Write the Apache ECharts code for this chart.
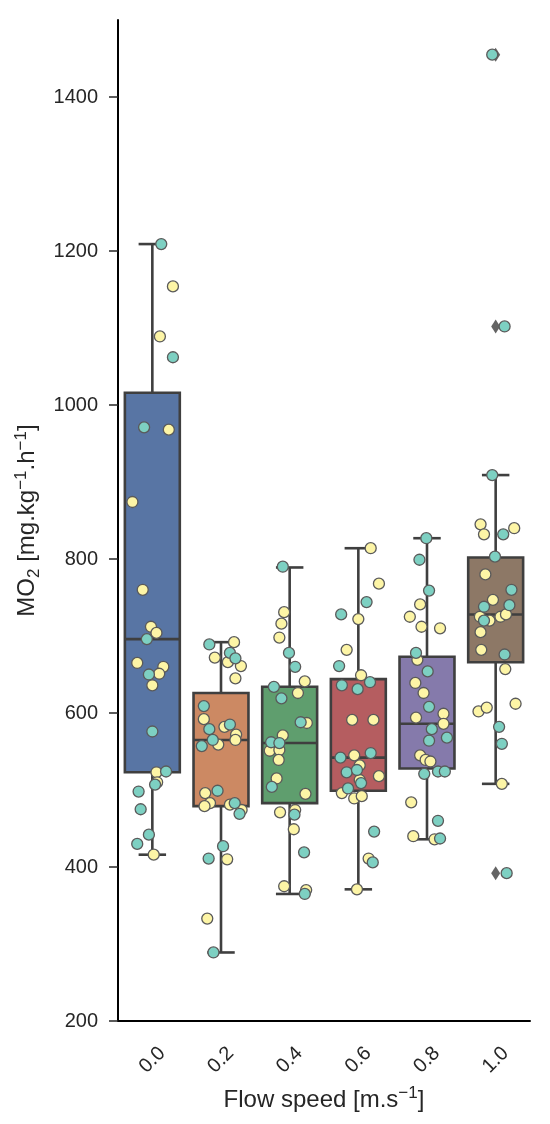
<!DOCTYPE html>
<html>
<head>
<meta charset="utf-8">
<script src="https://cdn.jsdelivr.net/npm/echarts@6/dist/echarts.min.js"></script>
<style>
html,body{margin:0;padding:0;background:#fff}
#chart{width:550px;height:1124px}
</style>
</head>
<body>
<div id="chart"></div>
<script>
// flow speed categories
var speeds = ['0.0', '0.2', '0.4', '0.6', '0.8', '1.0'];

// box stats per speed
var whiskerLow  = [416, 289, 365, 371, 436, 508];
var q1          = [523, 479, 483, 499, 528, 666];
var median      = [696, 565, 561, 542, 586, 728];
var q3          = [1016, 626, 634, 644, 673, 802];
var whiskerHigh = [1209, 692, 789, 814, 827, 909];

// outliers (speed index, MO2)
var outlierSpeed = [5, 5, 5];
var outlierMO2   = [1455, 1102, 392];

// strip points, teal group: MO2 values and jitter (fraction of band)
var tealMO2 = [
  [1209, 1062, 971, 696, 650, 576, 524, 507, 498, 475, 442, 430],
  [689, 678, 671, 609, 579, 585, 565, 557, 499, 483, 469, 427, 411, 289],
  [790, 678, 660, 634, 619, 588, 562, 561, 504, 468, 419, 365],
  [744, 728, 661, 636, 631, 640, 542, 548, 523, 526, 509, 502, 446, 406],
  [827, 799, 759, 678, 654, 608, 579, 568, 564, 521, 524, 524, 460, 437],
  [1455, 1102, 909, 832, 803, 760, 738, 740, 720, 676, 582, 560, 392]
];
var tealJitter = [
  [0.13, 0.30, -0.12, -0.08, -0.05, 0.00, 0.20, 0.04, -0.20, -0.17, -0.05, -0.22],
  [-0.17, 0.13, 0.21, -0.25, -0.17, 0.13, -0.12, -0.28, -0.05, 0.20, 0.27, 0.03, -0.18, -0.11],
  [-0.10, -0.01, 0.08, -0.23, -0.12, 0.16, -0.27, -0.15, -0.26, 0.07, 0.21, 0.22],
  [0.12, -0.25, -0.28, -0.24, -0.01, 0.17, -0.26, 0.18, -0.17, -0.02, 0.04, -0.15, 0.23, 0.21],
  [-0.01, -0.11, 0.03, -0.16, 0.01, 0.03, 0.07, 0.29, 0.03, -0.04, 0.16, 0.26, 0.16, 0.19],
  [-0.05, 0.13, -0.05, 0.11, -0.01, 0.23, -0.17, 0.20, -0.17, 0.13, 0.05, 0.09, 0.16]
];

// strip points, yellow group
var yellowMO2 = [
  [1154, 1089, 968, 874, 760, 712, 704, 665, 660, 651, 636, 523, 510, 416],
  [692, 672, 666, 661, 645, 592, 582, 572, 565, 559, 496, 483, 479, 481, 474, 410, 333],
  [731, 716, 698, 641, 626, 587, 571, 551, 552, 539, 515, 495, 471, 474, 449, 375, 370],
  [814, 768, 722, 682, 649, 591, 591, 545, 532, 518, 513, 496, 489, 492, 411, 371],
  [741, 725, 712, 710, 669, 639, 626, 599, 594, 586, 545, 539, 537, 484, 440, 436],
  [845, 832, 840, 780, 747, 725, 720, 725, 728, 705, 682, 657, 612, 602, 607, 508]
];
var yellowJitter = [
  [0.30, 0.11, 0.24, -0.29, -0.14, -0.02, 0.06, -0.22, 0.16, 0.10, 0.00, 0.06, 0.07, 0.02],
  [0.19, -0.09, 0.10, 0.29, 0.21, -0.25, 0.05, 0.22, 0.21, -0.04, -0.23, -0.16, -0.24, 0.13, 0.30, 0.09, -0.20],
  [-0.08, -0.12, -0.15, 0.22, 0.12, 0.25, -0.10, -0.29, -0.15, -0.16, -0.19, 0.23, -0.14, 0.08, 0.06, -0.08, 0.24],
  [0.18, 0.30, 0.00, -0.17, 0.04, -0.09, 0.22, -0.06, 0.02, 0.30, 0.02, -0.24, -0.06, 0.05, 0.15, -0.02],
  [-0.10, -0.25, -0.08, 0.19, -0.14, -0.17, -0.05, 0.24, -0.16, 0.24, -0.10, -0.02, 0.05, -0.23, -0.20, 0.11],
  [-0.22, -0.17, 0.27, -0.15, -0.04, -0.23, -0.09, 0.07, 0.15, -0.22, -0.21, 0.14, 0.29, -0.25, -0.13, 0.09]
];

var yTicks = [200, 400, 600, 800, 1000, 1200, 1400];

var boxColors = ['#5875a4', '#cc8963', '#5f9e6e', '#b55d60', '#857aab', '#8d7866'];
var edgeColor = '#3f3f3f';
var textColor = '#262626';
var fontFamily = '"Liberation Sans", Arial, sans-serif';

function stripData(values, jitter) {
  var out = [];
  for (var i = 0; i < values.length; i++) {
    for (var j = 0; j < values[i].length; j++) {
      out.push([i + jitter[i][j], values[i][j]]);
    }
  }
  return out;
}

var boxData = speeds.map(function (s, i) {
  return [i, whiskerLow[i], q1[i], median[i], q3[i], whiskerHigh[i]];
});
var outlierData = outlierSpeed.map(function (s, i) {
  return [s, outlierMO2[i]];
});

function lineStyle() {
  return {stroke: edgeColor, lineWidth: 2.6};
}

function nameRich() {
  return {
    t: {fontSize: 24, lineHeight: 30, color: textColor, fontFamily: fontFamily},
    sup: {fontSize: 17, lineHeight: 16, verticalAlign: 'top', color: textColor, fontFamily: fontFamily},
    sub: {fontSize: 17, lineHeight: 16, verticalAlign: 'bottom', color: textColor, fontFamily: fontFamily}
  };
}

var chart = echarts.init(document.getElementById('chart'));
var option = {
  backgroundColor: '#fff',
  animation: false,
  grid: {left: 118, right: 20, top: 20, bottom: 103},
  xAxis: [{
    type: 'category',
    data: speeds,
    boundaryGap: true,
    axisLine: {onZero: false, lineStyle: {color: '#000', width: 2}},
    axisTick: {alignWithLabel: true, length: 9, lineStyle: {color: textColor, width: 1.5}},
    axisLabel: {
      rotate: 45, align: 'center', verticalAlign: 'middle', margin: 39,
      fontSize: 20, color: textColor, fontFamily: fontFamily
    },
    splitLine: {show: false},
    name: '{t|Flow speed [m.s}{sup|\u22121}{t|]}',
    nameLocation: 'middle',
    nameGap: 64,
    nameTextStyle: {rich: nameRich()}
  }, {
    type: 'value',
    min: -0.5,
    max: 5.5,
    show: false,
    axisLine: {onZero: false}
  }],
  yAxis: {
    type: 'value',
    min: 200,
    max: 1500,
    interval: 100,
    axisLine: {show: true, onZero: false, lineStyle: {color: '#000', width: 2}},
    axisTick: {show: true, length: 9, customValues: yTicks, lineStyle: {color: textColor, width: 1.5}},
    axisLabel: {
      customValues: yTicks, margin: 20, fontSize: 20, color: textColor, fontFamily: fontFamily,
      formatter: function (v) { return String(v); }
    },
    splitLine: {show: false},
    name: '{t|MO}{sub|2}{t| [mg.kg}{sup|\u22121}{t|.h}{sup|\u22121}{t|]}',
    nameLocation: 'middle',
    nameGap: 72,
    nameTextStyle: {rich: nameRich()}
  },
  series: [{
    type: 'custom',
    xAxisIndex: 0,
    z: 2,
    data: boxData,
    encode: {x: 0, y: [1, 2, 3, 4, 5]},
    renderItem: function (params, api) {
      var i = api.value(0);
      var bw = api.size([1, 0])[0] * 0.8;
      var half = bw / 2, cap = bw / 4;
      var lo = api.coord([i, api.value(1)]);
      var b1 = api.coord([i, api.value(2)]);
      var md = api.coord([i, api.value(3)]);
      var b3 = api.coord([i, api.value(4)]);
      var hi = api.coord([i, api.value(5)]);
      var x = lo[0];
      return {
        type: 'group',
        children: [
          {type: 'line', shape: {x1: x, y1: lo[1], x2: x, y2: b1[1]}, style: lineStyle()},
          {type: 'line', shape: {x1: x, y1: b3[1], x2: x, y2: hi[1]}, style: lineStyle()},
          {type: 'line', shape: {x1: x - cap, y1: lo[1], x2: x + cap, y2: lo[1]}, style: lineStyle()},
          {type: 'line', shape: {x1: x - cap, y1: hi[1], x2: x + cap, y2: hi[1]}, style: lineStyle()},
          {type: 'rect', shape: {x: x - half, y: b3[1], width: bw, height: b1[1] - b3[1]},
            style: {fill: boxColors[params.dataIndex], stroke: edgeColor, lineWidth: 2.6}},
          {type: 'line', shape: {x1: x - half, y1: md[1], x2: x + half, y2: md[1]}, style: lineStyle()}
        ]
      };
    }
  }, {
    type: 'scatter',
    xAxisIndex: 0,
    z: 3,
    symbol: 'diamond',
    symbolSize: [9, 14],
    itemStyle: {color: '#3d3d3d'},
    data: outlierData
  }, {
    type: 'scatter',
    xAxisIndex: 1,
    z: 4,
    symbolSize: 11,
    itemStyle: {color: '#fdf5a6', borderColor: '#5a5a5a', borderWidth: 1.3, opacity: 1},
    data: stripData(yellowMO2, yellowJitter)
  }, {
    type: 'scatter',
    xAxisIndex: 1,
    z: 4,
    symbolSize: 11,
    itemStyle: {color: '#7dd0c2', borderColor: '#5a5a5a', borderWidth: 1.3, opacity: 1},
    data: stripData(tealMO2, tealJitter)
  }]
};
chart.setOption(option);
</script>
</body>
</html>
